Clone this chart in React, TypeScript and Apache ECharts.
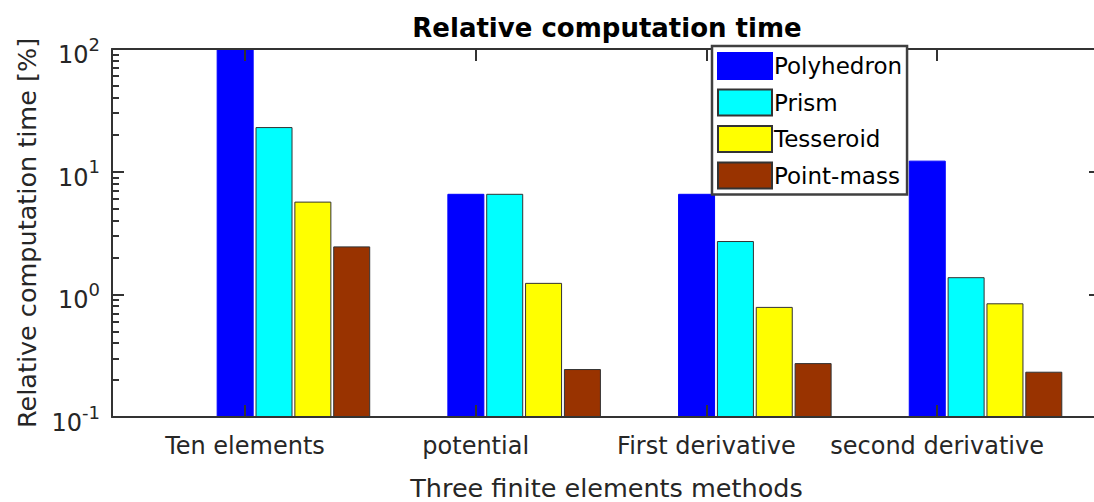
import React, { useEffect, useRef } from "react";
import * as echarts from "echarts";

const categories = ["Ten elements", "potential", "First derivative", "second derivative"];
const seriesNames = ["Polyhedron", "Prism", "Tesseroid", "Point-mass"];
const polyhedron = [100, 6.6, 6.6, 12.3];
const prism = [23.1, 6.6, 2.72, 1.38];
const tesseroid = [5.7, 1.24, 0.79, 0.845];
const pointMass = [2.46, 0.246, 0.275, 0.234];
const yTicks = [0.1, 1, 10, 100];
const categoryTicks = [1, 2, 3, 4];

const seriesValues = [polyhedron, prism, tesseroid, pointMass];
const colors = ["#0000ff", "#00ffff", "#ffff00", "#993300"];
const borders = ["#0000ff", "#333333", "#333333", "#333333"];

// layout constants
const GROUP_SHIFT = 0.21; // bars are drawn to the right of each category tick
const X_MIN = 0.4235;
const X_MAX = 4.7105;
const FONT = "DejaVu Sans";
const AXIS_COLOR = "#333333";

const minorTicks: number[] = [];
for (const d of [-1, 0, 1]) {
  for (let k = 2; k <= 9; k++) minorTicks.push(Math.log10(k * Math.pow(10, d)));
}

export default function App() {
  const ref = useRef<HTMLDivElement>(null);
  useEffect(() => {
    if (!ref.current) return;
    const chart = echarts.init(ref.current, null, { renderer: "svg" });
    const axisLine = { show: true, onZero: false, lineStyle: { color: AXIS_COLOR, width: 2 } };
    chart.setOption({
      animation: false,
      backgroundColor: "#ffffff",
      title: {
        text: "Relative computation time",
        left: 602,
        textAlign: "center",
        top: 10,
        textStyle: { fontFamily: FONT, fontSize: 26, fontWeight: "bold", color: "#000000" },
      },
      legend: {
        data: seriesNames,
        orient: "vertical",
        left: 712,
        top: 46,
        z: 20,
        itemWidth: 54,
        itemHeight: 26,
        itemGap: 8.5,
        padding: [6, 5, 5, 5],
        backgroundColor: "#ffffff",
        borderColor: "#404040",
        borderWidth: 2.5,
        borderRadius: 0,
        icon: "rect",
        textStyle: { fontFamily: FONT, fontSize: 23, color: "#000000", padding: [0, 0, 0, -3] },
      },
      grid: {
        left: 112,
        top: 49,
        width: 989,
        height: 368,
        containLabel: false,
        outerBoundsMode: "none",
      },
      xAxis: [
        {
          type: "value",
          position: "bottom",
          min: X_MIN,
          max: X_MAX,
          z: 10,
          name: "Three finite elements methods",
          nameLocation: "middle",
          nameGap: 58,
          nameTextStyle: { fontFamily: FONT, fontSize: 25.5, color: "#262626" },
          axisLine,
          splitLine: { show: false },
          axisTick: {
            show: true,
            inside: true,
            length: 12,
            customValues: categoryTicks,
            lineStyle: { color: AXIS_COLOR, width: 2 },
          },
          axisLabel: {
            show: true,
            margin: 17,
            customValues: categoryTicks,
            formatter: (v: number) => categories[Math.round(v) - 1] ?? "",
            fontFamily: FONT,
            fontSize: 24,
            color: "#262626",
          },
        },
        {
          type: "value",
          position: "top",
          min: X_MIN,
          max: X_MAX,
          z: 10,
          axisLine,
          splitLine: { show: false },
          axisTick: {
            show: true,
            inside: true,
            length: 12,
            customValues: categoryTicks,
            lineStyle: { color: AXIS_COLOR, width: 2 },
          },
          axisLabel: { show: false },
        },
      ],
      yAxis: [
        {
          type: "log",
          logBase: 10,
          position: "left",
          min: 0.1,
          max: 100,
          startValue: 0.1,
          z: 10,
          name: "Relative computation time [%]",
          nameLocation: "middle",
          nameGap: 72,
          nameTextStyle: { fontFamily: FONT, fontSize: 25.5, color: "#262626" },
          axisLine,
          splitLine: { show: false },
          axisTick: { show: true, inside: true, length: 12, lineStyle: { color: AXIS_COLOR, width: 2 } },
          minorTick: { show: false },
          axisLabel: {
            show: true,
            margin: 12,
            customValues: yTicks,
            formatter: (v: number) => `{b|10}{s|${Math.round(Math.log10(v))}}`,
            rich: {
              b: { fontFamily: FONT, fontSize: 24, lineHeight: 24, padding: [12, 0, 0, 0], color: "#262626" },
              s: { fontFamily: FONT, fontSize: 18, lineHeight: 28, verticalAlign: "top", color: "#262626" },
            },
          },
        },
        {
          type: "log",
          logBase: 10,
          position: "right",
          min: 0.1,
          max: 100,
          z: 10,
          axisLine,
          splitLine: { show: false },
          axisTick: { show: true, inside: true, length: 12, lineStyle: { color: AXIS_COLOR, width: 2 } },
          axisLabel: { show: false },
        },
        {
          type: "value",
          position: "left",
          min: -1,
          max: 2,
          z: 10,
          axisLine: { show: false, onZero: false },
          splitLine: { show: false },
          axisTick: {
            show: true,
            inside: true,
            length: 7,
            customValues: minorTicks,
            lineStyle: { color: AXIS_COLOR, width: 2 },
          },
          axisLabel: { show: false },
        },
      ],
      series: seriesNames.map((name, si) => ({
        name,
        type: "bar",
        xAxisIndex: 0,
        yAxisIndex: 0,
        barWidth: 37,
        barGap: "5%",
        itemStyle: { color: colors[si], borderColor: borders[si], borderWidth: 1 },
        data: seriesValues[si].map((v, i) => [categoryTicks[i] + GROUP_SHIFT, v]),
      })),
    });
    return () => chart.dispose();
  }, []);
  return (
    <div
      ref={ref}
      style={{ position: "fixed", left: 0, top: 0, width: 1094, height: 502, background: "#ffffff" }}
    />
  );
}
